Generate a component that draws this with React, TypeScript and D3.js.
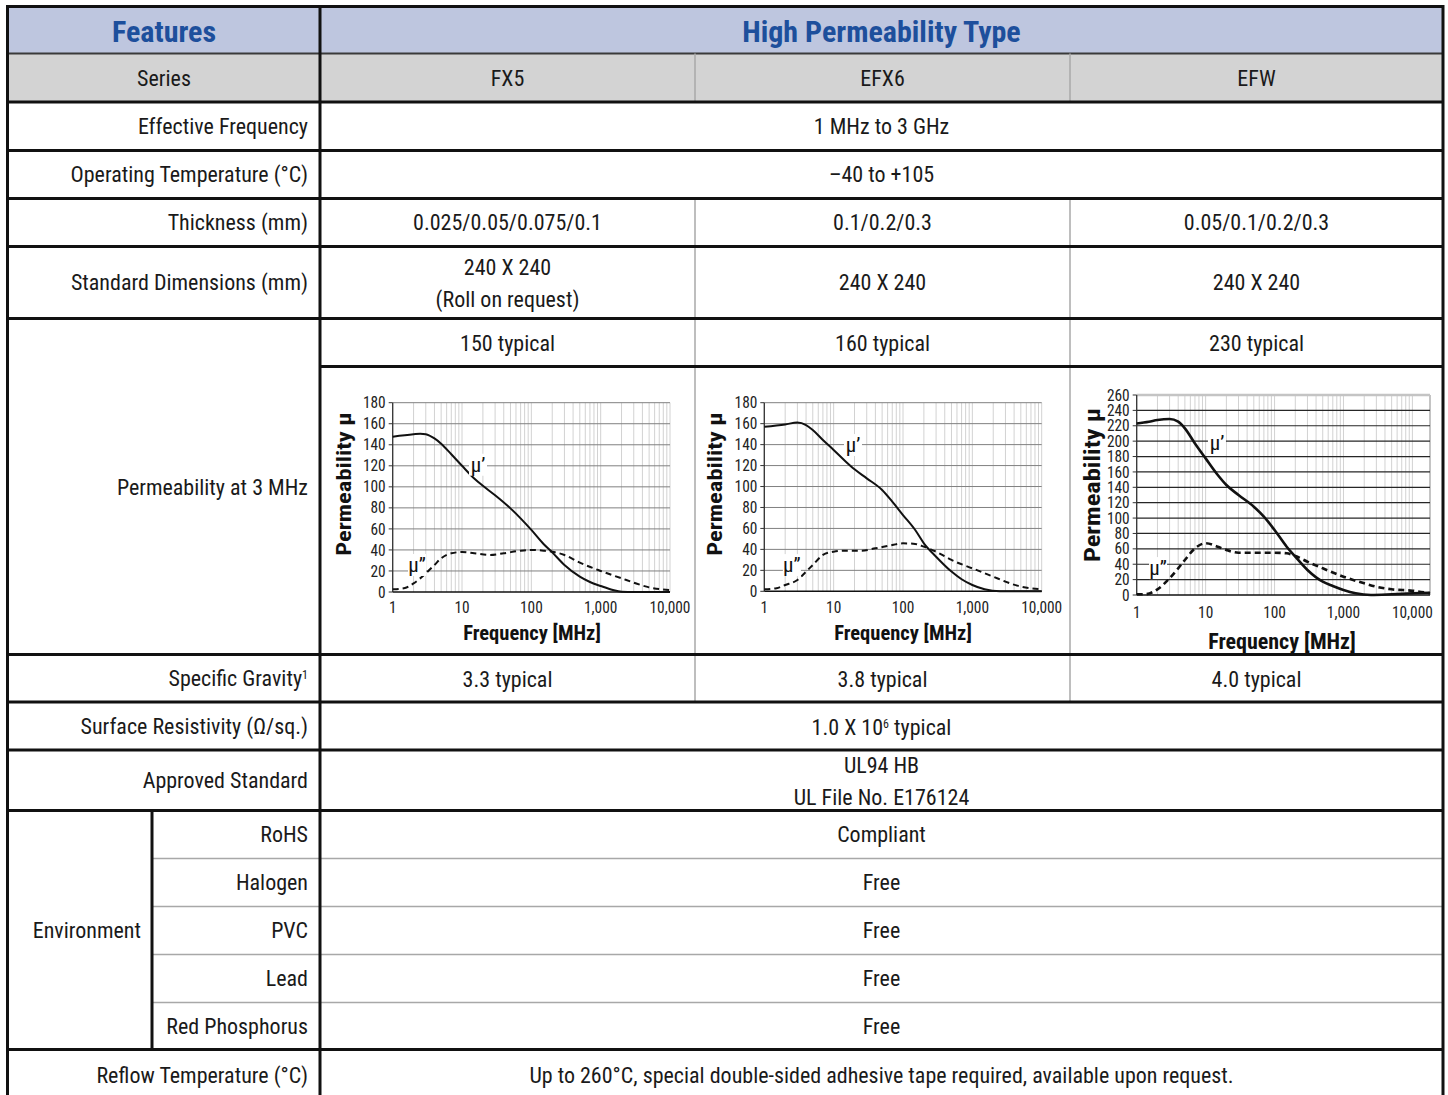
import React from 'react';
import * as d3 from 'd3';

const FONT = "'Roboto Condensed', Roboto, 'Noto Sans', sans-serif";
const SX = 1;
const INK = '#1a1a1a';
const BLUE = '#1d4f9c';

// ---- table content ----
const seriesNames = ['FX5', 'EFX6', 'EFW'];
const thickness = ['0.025/0.05/0.075/0.1', '0.1/0.2/0.3', '0.05/0.1/0.2/0.3'];
const dimensions = [['240 X 240', '(Roll on request)'], ['240 X 240'], ['240 X 240']];
const permTypical = ['150 typical', '160 typical', '230 typical'];
const gravity = ['3.3 typical', '3.8 typical', '4.0 typical'];
const envItems = ['RoHS', 'Halogen', 'PVC', 'Lead', 'Red Phosphorus'];
const envValues = ['Compliant', 'Free', 'Free', 'Free', 'Free'];

// ---- chart data (frequency in MHz, permeability) ----
const fx5RealF = [1, 2, 2.5, 3, 4, 5, 7, 10, 15, 20, 30, 50, 70, 100, 150, 200, 300, 500, 700, 1000, 1500, 2000, 3000, 10000];
const fx5RealV = [147.7, 150, 150.5, 150, 146, 141, 131, 120, 108, 101, 92, 79.5, 70, 59, 45.6, 37.7, 25.7, 14.6, 9.5, 5.7, 1.9, 0.3, 0, 0];
const fx5ImagF = [1, 1.5, 2, 3, 4, 5, 7, 10, 15, 25, 40, 70, 100, 150, 200, 300, 500, 1000, 2000, 3000, 5000, 10000];
const fx5ImagV = [2.5, 3.8, 8.2, 17.7, 25.7, 32, 36.8, 38, 36.8, 35.2, 36.8, 39.3, 40, 39.3, 38.3, 35.2, 27.9, 20, 13, 8.9, 4.4, 1.9];

const efx6RealF = [1, 2, 3, 4, 5, 7, 10, 15, 20, 30, 50, 70, 100, 150, 200, 300, 500, 700, 1000, 1500, 2500, 10000];
const efx6RealV = [157, 159.3, 161, 158.7, 154, 144.4, 134.9, 123.7, 116.4, 107.8, 96.7, 85.6, 72.8, 58.5, 45.8, 33, 18.8, 11.5, 6, 1.9, 0, 0];
const efx6ImagF = [1, 1.5, 2, 3, 4, 5, 7, 10, 15, 25, 40, 70, 100, 150, 200, 300, 500, 1000, 2000, 3000, 5000, 10000];
const efx6ImagV = [1.9, 2.9, 6, 10.8, 18.8, 25.1, 34.7, 37.8, 38.8, 38.8, 41, 44.2, 45.8, 45.2, 42.6, 37.8, 29.9, 21.9, 14, 9.2, 4.5, 1.9];

const efwRealF = [1, 1.5, 2, 3, 4, 5, 7, 10, 15, 20, 30, 50, 70, 100, 150, 200, 300, 500, 700, 1000, 1500, 2500, 5000, 10000, 18000];
const efwRealV = [223, 225.3, 227.5, 228.8, 225.3, 216.6, 197, 177.6, 156, 143, 130, 114.8, 101.8, 84.5, 62.8, 49.8, 32.5, 17.3, 11.7, 6.5, 2.2, 0, 0.9, 2.2, 3];
const efwImagF = [1, 1.3, 2, 3, 4, 5, 7, 10, 15, 20, 30, 50, 100, 150, 200, 300, 500, 1000, 2000, 3000, 5000, 10000, 18000];
const efwImagV = [0.9, 0.9, 7.4, 21.7, 34.7, 45.5, 60.7, 67.2, 62.8, 58.5, 55, 55, 55, 54.2, 50.7, 43.3, 34.7, 23.8, 15.2, 10.8, 7.4, 5.6, 2.2];

const zip = (f: number[], v: number[]) => f.map((d, i) => [d, v[i]] as [number, number]);

// text helper (optional horizontal scale)
const T = ({ x, y, children, anchor = 'middle', size = 22, weight = 400, fill = INK, sx = SX, rotate = 0 }: any) => (
  <text
    transform={`translate(${x},${y})${rotate ? ` rotate(${rotate})` : ''}${sx !== 1 ? ` scale(${sx},1)` : ''}`}
    textAnchor={anchor}
    fontSize={size}
    fontWeight={weight}
    fill={fill}
    dy="0.35em"
  >
    {children}
  </text>
);

interface ChartProps {
  l: number; r: number; t: number; b: number;
  xMax: number; yMax: number; yStep: number;
  real: [number, number][]; imag: [number, number][];
  realLabel: [number, number]; imagLabel: [number, number];
  hGrid: string; hGridW: number; lineW: number;
  yTitle: [number, number]; xTitle: [number, number]; titleSize: number;
  tickY: number; tickSize: number; frame?: boolean;
}

function Chart(p: ChartProps) {
  const x = d3.scaleLog().domain([1, p.xMax]).range([p.l, p.r]);
  const y = d3.scaleLinear().domain([0, p.yMax]).range([p.b, p.t]);
  const yTicks = d3.range(0, p.yMax + 0.01, p.yStep);
  const minor: number[] = [];
  for (let k = 0; Math.pow(10, k) <= p.xMax; k++) {
    for (let m = 1; m <= 9; m++) {
      const v = m * Math.pow(10, k);
      if (v <= p.xMax) minor.push(v);
    }
  }
  const majors = [1, 10, 100, 1000, 10000];
  const line = d3.line<[number, number]>().x(d => x(d[0])).y(d => y(d[1])).curve(d3.curveMonotoneX);

  return (
    <g>
      {minor.map(v => (
        <line key={'v' + v} x1={x(v)} x2={x(v)} y1={p.t} y2={p.b} stroke="#d2d2d2" strokeWidth={1} />
      ))}
      {p.frame && (
        <>
          <line x1={p.r} x2={p.r} y1={p.t} y2={p.b} stroke="#c4c4c4" strokeWidth={2} />
          <line x1={p.l} x2={p.r} y1={p.t} y2={p.t} stroke="#c4c4c4" strokeWidth={2.5} />
        </>
      )}
      {yTicks.map(v => (
        v > 0 && !(p.frame && v === p.yMax) ? (
          <line key={'h' + v} x1={p.l} x2={p.r} y1={y(v)} y2={y(v)} stroke={p.hGrid} strokeWidth={p.hGridW} />
        ) : null
      ))}
      {/* axes */}
      <line x1={p.l} x2={p.l} y1={p.t} y2={p.b} stroke="#333" strokeWidth={1.3} />
      <line x1={p.l} x2={p.r} y1={p.b} y2={p.b} stroke="#111" strokeWidth={1.6} />
      {yTicks.map(v => (
        <g key={'yt' + v}>
          <line x1={p.l - 4} x2={p.l} y1={y(v)} y2={y(v)} stroke="#333" strokeWidth={1} />
          <T x={p.l - 7} y={y(v)} anchor="end" size={p.tickSize} sx={0.96} fill="#222">{v}</T>
        </g>
      ))}
      {majors.filter(v => v <= p.xMax).map(v => (
        <T key={'xt' + v} x={x(v)} y={p.tickY} size={p.tickSize} sx={0.96} fill="#222">{d3.format(',')(v)}</T>
      ))}
      {/* curves */}
      <path d={line(p.imag) || ''} fill="none" stroke="#111" strokeWidth={p.lineW} strokeDasharray="6,4" />
      <path d={line(p.real) || ''} fill="none" stroke="#111" strokeWidth={p.lineW} />
      {/* curve labels */}
      {[{ pos: p.realLabel, txt: 'μ’' }, { pos: p.imagLabel, txt: 'μ”' }].map(lb => (
        <g key={lb.txt}>
          <rect x={x(lb.pos[0]) - 9} y={y(lb.pos[1]) - 11} width={18} height={22} fill="#fff" />
          <T x={x(lb.pos[0])} y={y(lb.pos[1])} size={21} fill="#111">{lb.txt}</T>
        </g>
      ))}
      {/* titles */}
      <T x={p.xTitle[0]} y={p.xTitle[1]} size={p.titleSize} weight={700} fill="#111">Frequency [MHz]</T>
      <T x={p.yTitle[0]} y={p.yTitle[1]} size={p.titleSize} weight={700} sx={1.2} rotate={-90} fill="#111">Permeability μ</T>
    </g>
  );
}

export default function App() {
  const W = 1448, H = 1095;
  const L = 7.5, R = 1443, C1 = 320, C2 = 695, C3 = 1070, ENV = 152;
  const colMid = [(C1 + C2) / 2, (C2 + C3) / 2, (C3 + R) / 2];
  const fullMid = (C1 + R) / 2;
  const labelX = 308;

  const thickRows: [number, number][] = [
    [6.5, L], [102, L], [150.5, L], [198.5, L], [246.5, L], [318.5, L], [366.5, C1],
    [654.5, L], [702, L], [750, L], [810.5, L], [1049.5, L],
  ];
  const envRowLines = [858.5, 906.5, 954.5, 1002.5];
  const envCenters = [834.5, 882.5, 930.5, 978.5, 1026];

  return (
    <svg width={W} height={H} style={{ position: 'fixed', left: 0, top: 0, background: '#fff' }} fontFamily={FONT}>
      <rect x={0} y={0} width={W} height={H} fill="#fff" />
      {/* header backgrounds */}
      <rect x={L} y={6.5} width={R - L} height={47} fill="#bec6df" />
      <rect x={L} y={53.5} width={R - L} height={48.5} fill="#d3d3d3" />

      {/* charts */}
      <Chart l={392.7} r={670} t={402.7} b={592} xMax={10000} yMax={180} yStep={20}
        real={zip(fx5RealF, fx5RealV)} imag={zip(fx5ImagF, fx5ImagV)}
        realLabel={[17, 121]} imagLabel={[2.24, 25.7]}
        hGrid="#808080" hGridW={1} lineW={2}
        yTitle={[344, 484]} xTitle={[532, 633]} titleSize={20.5} tickY={607} tickSize={16} />
      <Chart l={764.3} r={1041.7} t={402.7} b={591.3} xMax={10000} yMax={180} yStep={20}
        real={zip(efx6RealF, efx6RealV)} imag={zip(efx6ImagF, efx6ImagV)}
        realLabel={[19, 139.6]} imagLabel={[2.5, 25]}
        hGrid="#808080" hGridW={1} lineW={2}
        yTitle={[715, 484]} xTitle={[903, 633]} titleSize={20.5} tickY={607} tickSize={16} />
      <Chart l={1136.7} r={1430} t={395} b={595} xMax={18000} yMax={260} yStep={20}
        real={zip(efwRealF, efwRealV)} imag={zip(efwImagF, efwImagV)}
        realLabel={[14.6, 197.6]} imagLabel={[2.04, 35]}
        hGrid="#262626" hGridW={1.2} lineW={2.6}
        yTitle={[1092, 485]} xTitle={[1282, 641]} titleSize={22} tickY={612} tickSize={16} frame />

      {/* grid lines of the table */}
      <line x1={L} x2={R} y1={53.5} y2={53.5} stroke="#3a3a3a" strokeWidth={2} />
      {[[53.5, 102], [198.5, 702]].map(([a, b]) => (
        [C2, C3].map(cx => (
          <line key={`g${a}-${cx}`} x1={cx} x2={cx} y1={a} y2={b} stroke="#a8a8a8" strokeWidth={1.5} />
        ))
      ))}
      {envRowLines.map(yv => (
        <line key={'e' + yv} x1={ENV} x2={R} y1={yv} y2={yv} stroke="#a8a8a8" strokeWidth={1.5} />
      ))}
      {thickRows.map(([yv, x0]) => (
        <line key={'r' + yv} x1={x0} x2={R} y1={yv} y2={yv} stroke="#111" strokeWidth={3} />
      ))}
      <line x1={L} x2={L} y1={5} y2={H} stroke="#111" strokeWidth={3} />
      <line x1={R} x2={R} y1={5} y2={H} stroke="#111" strokeWidth={3} />
      <line x1={C1} x2={C1} y1={5} y2={H} stroke="#111" strokeWidth={3} />
      <line x1={ENV} x2={ENV} y1={810.5} y2={1049.5} stroke="#111" strokeWidth={3} />

      {/* header */}
      <T x={164} y={31} size={30} weight={700} fill={BLUE}>Features</T>
      <T x={fullMid} y={31} size={30} weight={700} fill={BLUE}>High Permeability Type</T>
      <T x={164} y={78.5} size={22}>Series</T>
      {seriesNames.map((s, i) => <T key={s} x={colMid[i]} y={78.5} size={22}>{s}</T>)}

      {/* left labels */}
      <T x={labelX} y={126} anchor="end">Effective Frequency</T>
      <T x={labelX} y={174.5} anchor="end">Operating Temperature (°C)</T>
      <T x={labelX} y={222.5} anchor="end">Thickness (mm)</T>
      <T x={labelX} y={282.5} anchor="end">Standard Dimensions (mm)</T>
      <T x={labelX} y={487} anchor="end">Permeability at 3 MHz</T>
      <text transform={`translate(${labelX},678)`} textAnchor="end" fontSize={22} fill={INK} dy="0.35em">
        Specific Gravity<tspan fontSize={12} dy={-7}>1</tspan>
      </text>
      <T x={labelX} y={726} anchor="end">Surface Resistivity (Ω/sq.)</T>
      <T x={labelX} y={780} anchor="end">Approved Standard</T>
      <T x={141} y={930} anchor="end">Environment</T>
      {envItems.map((e, i) => <T key={e} x={labelX} y={envCenters[i]} anchor="end">{e}</T>)}
      <T x={labelX} y={1075} anchor="end">Reflow Temperature (°C)</T>

      {/* values */}
      <T x={fullMid} y={126}>1 MHz to 3 GHz</T>
      <T x={fullMid} y={174.5}>–40 to +105</T>
      {thickness.map((t, i) => <T key={'t' + i} x={colMid[i]} y={222.5}>{t}</T>)}
      {dimensions.map((d, i) => d.length === 2 ? (
        <g key={'d' + i}>
          <T x={colMid[i]} y={267.5}>{d[0]}</T>
          <T x={colMid[i]} y={299}>{d[1]}</T>
        </g>
      ) : <T key={'d' + i} x={colMid[i]} y={282.5}>{d[0]}</T>)}
      {permTypical.map((t, i) => <T key={'p' + i} x={colMid[i]} y={343}>{t}</T>)}
      {gravity.map((t, i) => <T key={'s' + i} x={colMid[i]} y={679}>{t}</T>)}
      <text transform={`translate(${fullMid},727)`} textAnchor="middle" fontSize={22} fill={INK} dy="0.35em">
        1.0 X 10<tspan fontSize={12} dy={-7}>6</tspan><tspan dy={7}> typical</tspan>
      </text>
      <T x={fullMid} y={765}>UL94 HB</T>
      <T x={fullMid} y={797}>UL File No. E176124</T>
      {envValues.map((v, i) => <T key={'ev' + i} x={fullMid} y={envCenters[i]}>{v}</T>)}
      <T x={fullMid} y={1075}>Up to 260°C, special double-sided adhesive tape required, available upon request.</T>
    </svg>
  );
}
